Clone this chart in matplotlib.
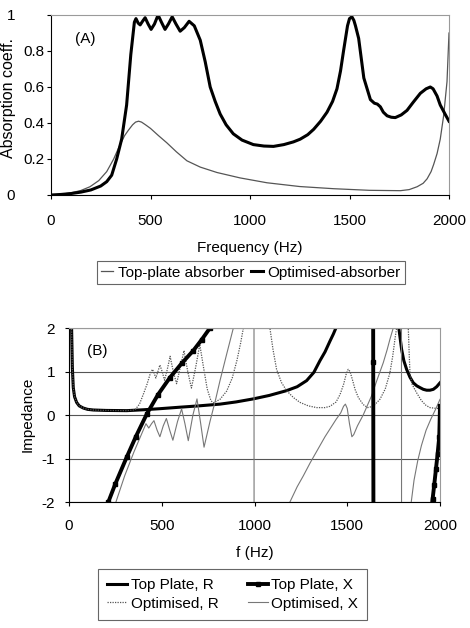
import numpy as np
import matplotlib
matplotlib.use('Agg')
import matplotlib.pyplot as plt

plt.rcParams['font.family'] = ['Liberation Sans', 'DejaVu Sans']
plt.rcParams['font.size'] = 11
plt.rcParams['axes.unicode_minus'] = False

# ---- panel (A): absorption coefficient vs frequency ----
a_f_top = [0, 50, 100, 150, 196, 240, 280, 315, 347, 370, 389, 410, 425, 440, 455, 475, 500, 540,
           582, 630, 683, 750, 834, 950, 1085, 1250, 1420, 1600, 1756, 1800, 1840, 1870, 1890,
           1910, 1923, 1940, 1956, 1973, 1990, 2000]
a_top = [0, 0.004, 0.012, 0.025, 0.046, 0.08, 0.13, 0.2, 0.28, 0.33, 0.36, 0.39, 0.405, 0.41, 0.405,
         0.39, 0.37, 0.33, 0.29, 0.24, 0.19, 0.155, 0.125, 0.095, 0.068, 0.047, 0.035, 0.026, 0.024,
         0.03, 0.046, 0.065, 0.09, 0.13, 0.17, 0.23, 0.31, 0.44, 0.63, 0.9]

a_f_opt = [0, 50, 100, 150, 200, 250, 280, 305, 330, 355, 380, 401, 419, 427, 438, 448, 460, 473,
           488, 503, 520, 538, 555, 573, 590, 609, 628, 649, 670, 694, 720, 750, 775, 800, 825, 850,
           880, 916, 960, 1017, 1070, 1118, 1170, 1218, 1252, 1290, 1320, 1355, 1387, 1415, 1437,
           1455, 1470, 1490, 1500, 1512, 1522, 1530, 1546, 1572, 1605, 1625, 1640, 1655, 1670, 1689,
           1710, 1730, 1760, 1789, 1820, 1856, 1885, 1906, 1920, 1940, 1956, 1980, 2000]
a_opt = [0, 0.003, 0.008, 0.016, 0.028, 0.05, 0.074, 0.11, 0.2, 0.31, 0.5, 0.78, 0.96, 0.98, 0.955,
         0.945, 0.965, 0.985, 0.95, 0.92, 0.95, 1.0, 0.96, 0.92, 0.95, 0.99, 0.95, 0.91, 0.93, 0.965,
         0.94, 0.86, 0.74, 0.6, 0.52, 0.45, 0.39, 0.34, 0.305, 0.28, 0.272, 0.27, 0.28, 0.295, 0.31,
         0.335, 0.365, 0.41, 0.46, 0.52, 0.59, 0.69, 0.8, 0.94, 0.98, 0.99, 0.97, 0.94, 0.87, 0.65,
         0.53, 0.51, 0.505, 0.49, 0.46, 0.44, 0.432, 0.43, 0.445, 0.47, 0.515, 0.565, 0.59, 0.60,
         0.59, 0.55, 0.5, 0.45, 0.41]

a_xticks = [0, 500, 1000, 1500, 2000]
a_yticks = [0, 0.2, 0.4, 0.6, 0.8, 1.0]
a_yticklabels = ['0', '0.2', '0.4', '0.6', '0.8', '1']

# ---- panel (B): impedance vs frequency (off-scale values just go out of the box) ----
b_f_tpr = [5, 10, 14, 18, 23, 30, 41, 55, 77, 100, 131, 200, 311, 400, 490, 600, 700, 814, 900, 993,
           1080, 1173, 1230, 1281, 1320, 1353, 1380, 1407, 1425, 1439, 1460, 1600, 1770, 1778, 1793,
           1805, 1820, 1838, 1856, 1875, 1892, 1910, 1928, 1946, 1964, 1982, 2000]
b_tpr = [6, 3, 2.0, 1.1, 0.63, 0.42, 0.29, 0.21, 0.16, 0.13, 0.115, 0.105, 0.10, 0.12, 0.145, 0.18,
         0.21, 0.25, 0.30, 0.37, 0.45, 0.56, 0.65, 0.79, 0.98, 1.25, 1.45, 1.7, 1.86, 2.0, 2.3, 25,
         2.3, 2.0, 1.51, 1.25, 1.05, 0.87, 0.74, 0.67, 0.63, 0.59, 0.57, 0.57, 0.59, 0.65, 0.74]

b_f_tpx = [195, 212, 250, 311, 360, 419, 480, 544, 610, 670, 715, 760, 800, 1200, 1630, 1640, 1650,
           1800, 1950, 1960, 1969, 1978, 1987, 1996, 2000]
b_tpx = [-2.4, -2.0, -1.58, -0.97, -0.5, 0.02, 0.47, 0.86, 1.2, 1.48, 1.73, 2.0, 2.25, 10, 30, 1.21,
         -30, -10, -2.3, -1.94, -1.6, -1.25, -0.9, -0.5, 0.2]

b_f_opr = [5, 10, 14, 18, 23, 30, 41, 55, 77, 100, 131, 200, 311, 356, 380, 401, 420, 438, 450, 460,
           468, 478, 490, 502, 515, 530, 545, 562, 580, 600, 620, 640, 660, 683, 705, 725, 745, 765,
           778, 814, 850, 880, 905, 925, 940, 950, 1010, 1075, 1083, 1100, 1119, 1145, 1173, 1210,
           1245, 1290, 1335, 1380, 1407, 1440, 1461, 1480, 1495, 1505, 1515, 1530, 1542, 1560, 1586,
           1610, 1640, 1676, 1705, 1730, 1745, 1757, 1766, 1775, 1800, 1825, 1829, 1834, 1838, 1850,
           1874, 1900, 1925, 1946, 1982, 2000]
b_opr = [6, 3, 2.0, 1.1, 0.63, 0.42, 0.29, 0.21, 0.16, 0.13, 0.115, 0.105, 0.10, 0.12, 0.25, 0.48,
         0.7, 0.95, 1.05, 0.95, 0.85, 0.98, 1.15, 1.0, 0.8, 1.05, 1.35, 1.0, 0.72, 1.1, 1.48, 1.0,
         0.62, 1.1, 1.62, 1.1, 0.6, 0.33, 0.28, 0.36, 0.55, 0.85, 1.25, 1.65, 2.0, 2.5, 10, 2.5, 2.0,
         1.5, 1.05, 0.75, 0.56, 0.4, 0.29, 0.21, 0.17, 0.17, 0.2, 0.3, 0.47, 0.7, 0.95, 1.05, 1.0,
         0.78, 0.59, 0.4, 0.24, 0.17, 0.2, 0.36, 0.6, 0.97, 1.35, 1.74, 2.0, 2.4, 10, 2.4, 2.0, 1.4,
         0.97, 0.7, 0.51, 0.33, 0.22, 0.17, 0.15, 0.15]

b_f_opx = [230, 253, 300, 350, 390, 415, 430, 445, 458, 475, 490, 508, 525, 543, 560, 585, 607, 625,
           643, 668, 690, 710, 728, 760, 790, 814, 850, 886, 900, 995, 1000, 1150, 1175, 1191, 1230,
           1263, 1300, 1340, 1380, 1410, 1440, 1465, 1480, 1490, 1500, 1512, 1525, 1535, 1555, 1586,
           1631, 1660, 1694, 1715, 1730, 1748, 1760, 1790, 1795, 1835, 1845, 1860, 1880, 1900, 1925,
           1950, 1975, 2000]
b_opx = [-2.5, -2.0, -1.4, -0.85, -0.45, -0.2, -0.3, -0.2, -0.13, -0.35, -0.5, -0.25, -0.08, -0.35,
         -0.58, -0.15, 0.14, -0.2, -0.59, 0.0, 0.37, -0.2, -0.74, -0.15, 0.35, 0.79, 1.4, 2.0, 2.4,
         30, -30, -4, -2.3, -2.0, -1.65, -1.4, -1.1, -0.8, -0.5, -0.3, -0.1, 0.05, 0.2, 0.25, 0.15,
         -0.2, -0.5, -0.45, -0.25, 0.0, 0.44, 0.8, 1.2, 1.5, 1.74, 2.0, 2.4, 30, -30, -2.6, -2.0,
         -1.5, -1.05, -0.7, -0.35, -0.1, 0.12, 0.36]

b_xticks = [0, 500, 1000, 1500, 2000]
b_yticks = [-2, -1, 0, 1, 2]

W, H = 470, 628
fig = plt.figure(figsize=(W / 100, H / 100), dpi=100)

# panel A
ax1 = fig.add_axes([51 / W, 1 - 195 / H, 398 / W, 180 / H])
l_top, = ax1.plot(a_f_top, a_top, color='#555555', lw=0.9, label='Top-plate absorber')
l_opt, = ax1.plot(a_f_opt, a_opt, color='black', lw=2.2, label='Optimised-absorber')
ax1.set_xlim(0, 2000)
ax1.set_ylim(0, 1)
ax1.set_xticks(a_xticks)
ax1.set_yticks(a_yticks)
ax1.set_yticklabels(a_yticklabels)
for s in ['top', 'right']:
    ax1.spines[s].set_color('#9a9a9a')
ax1.tick_params(axis='x', length=3, pad=11)
ax1.tick_params(axis='y', length=3, pad=1.5)
# the "0" and "1" labels sit further left in the original
for lab in ax1.get_yticklabels():
    if lab.get_text() in ('0', '1'):
        lab.set_x(-0.075)
ax1.text(0.085, 0.867, '(A)', transform=ax1.transAxes, ha='center', va='center')
fig.text(250 / W, 1 - 248 / H, 'Frequency (Hz)', ha='center', va='center')
fig.text(9 / W, 1 - 98 / H, 'Absorption coeff.', rotation=90, ha='center', va='center', size=11.5)
leg1 = fig.legend(handles=[l_top, l_opt], loc='center', bbox_to_anchor=(251 / W, 1 - 272.5 / H),
                  ncol=2, handlelength=0.8, handletextpad=0.3, columnspacing=0.4, borderpad=0.3,
                  fancybox=False, edgecolor='#666666', framealpha=1)
leg1.get_frame().set_linewidth(0.8)

# panel B
ax2 = fig.add_axes([69 / W, 1 - 502 / H, 371 / W, 174 / H])
ax2.set_axisbelow(True)
ax2.yaxis.grid(True, color='#555555', lw=0.8)
h_tpr, = ax2.plot(b_f_tpr, b_tpr, color='black', lw=2.2, label='Top Plate, R')
h_opr, = ax2.plot(b_f_opr, b_opr, color='#555555', lw=0.9, ls=(0, (1, 1)), label='Optimised, R')
h_opx, = ax2.plot(b_f_opx, b_opx, color='#777777', lw=0.8, label='Optimised, X')
h_tpx, = ax2.plot(b_f_tpx, b_tpx, color='black', lw=2.8, marker='s', ms=3.3, label='Top Plate, X')
ax2.set_xlim(0, 2000)
ax2.set_ylim(-2, 2)
ax2.set_xticks(b_xticks)
ax2.set_yticks(b_yticks)
for s in ['top', 'right']:
    ax2.spines[s].set_color('#9a9a9a')
ax2.tick_params(axis='x', length=3, pad=9)
ax2.tick_params(axis='y', length=3, pad=7)
ax2.text(0.077, 0.87, '(B)', transform=ax2.transAxes, ha='center', va='center')
fig.text(254.5 / W, 1 - 553 / H, 'f (Hz)', ha='center', va='center')
fig.text(28 / W, 1 - 414 / H, 'Impedance', rotation=90, ha='center', va='center')
leg2 = fig.legend(handles=[h_tpr, h_opr, h_tpx, h_opx], loc='center',
                  bbox_to_anchor=(232.7 / W, 1 - 594.5 / H), ncol=2, handlelength=1.3,
                  handletextpad=0.25, columnspacing=1.9, labelspacing=0.3, borderpad=0.6,
                  fancybox=False, edgecolor='#666666', framealpha=1)
leg2.get_frame().set_linewidth(0.8)

fig.savefig('out.png', dpi=100)
